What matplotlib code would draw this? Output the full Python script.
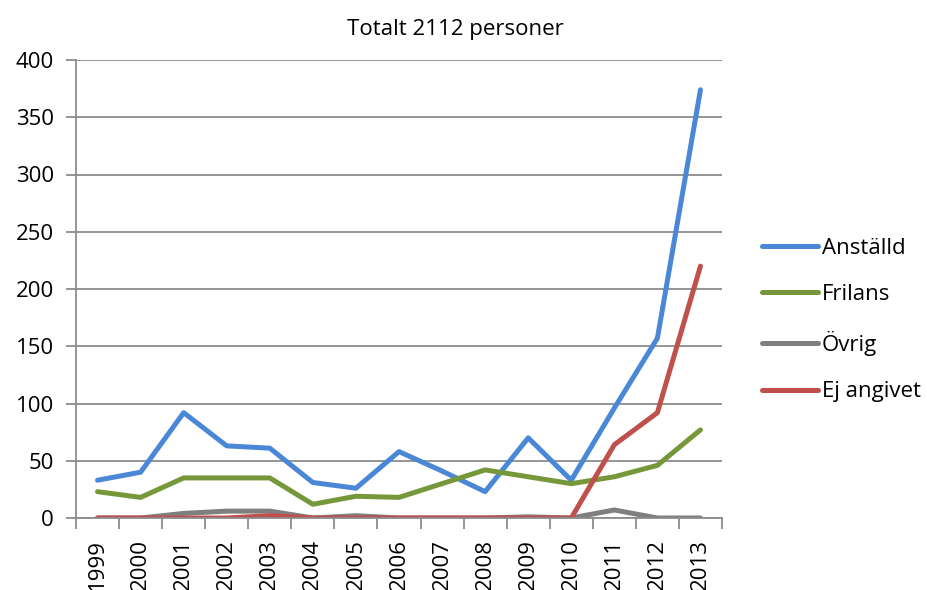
import numpy as np
import matplotlib
matplotlib.use("Agg")
import matplotlib.pyplot as plt

YEARS = [str(y) for y in range(1999, 2014)]

ANSTALLD = [33, 40, 92, 63, 61, 31, 26, 58, 41, 23, 70, 33, 96, 157, 374]
FRILANS = [23, 18, 35, 35, 35, 12, 19, 18, 30, 42, 36, 30, 36, 46, 77]
OVRIG = [0, 0, 4, 6, 6, 0, 2, 0, 0, 0, 1, 0, 7, 0, 0]
EJ_ANGIVET = [0, 0, 0, 0, 2, 0, 0, 0, 0, 0, 0, 0, 64, 92, 220]

SERIES = [
    ("Anställd", ANSTALLD, "#4a87d6"),
    ("Frilans", FRILANS, "#77973b"),
    ("Övrig", OVRIG, "#7f7f7f"),
    ("Ej angivet", EJ_ANGIVET, "#c0504d"),
]

FS = 16
GRID = "#8c8c8c"

plt.rcParams["font.family"] = ["Open Sans", "DejaVu Sans"]

fig = plt.figure(figsize=(9.28, 5.9), dpi=100)
ax = fig.add_axes([76 / 928, 1 - 518 / 590, 646 / 928, 458 / 590])

x = np.arange(len(YEARS))
for name, vals, color in SERIES:
    ax.plot(x, vals, color=color, lw=3.6, label=name,
            solid_capstyle="round", solid_joinstyle="round")

ax.set_xlim(-0.5, len(YEARS) - 0.5)
ax.set_ylim(0, 400)
ax.set_yticks(range(0, 401, 50))
ax.yaxis.grid(True, color=GRID, lw=1.3)
ax.set_axisbelow(True)

ax.set_xticks(x)
ax.set_xticklabels(YEARS, rotation=90, fontsize=FS)
ax.set_xticks(np.arange(-0.5, len(YEARS), 1), minor=True)
ax.tick_params(axis="x", which="major", length=0, pad=15)
ax.tick_params(axis="x", which="minor", length=8, color=GRID, width=1.3)
ax.tick_params(axis="y", length=7, color=GRID, width=1.3, labelsize=FS, pad=9)

for side in ("top", "right"):
    ax.spines[side].set_visible(False)
for side in ("left", "bottom"):
    ax.spines[side].set_color(GRID)
    ax.spines[side].set_linewidth(1.3)

fig.legend(loc="center left", bbox_to_anchor=(762 / 928, 1 - 320 / 590),
           bbox_transform=fig.transFigure, frameon=False, fontsize=FS,
           handlelength=2.5, handletextpad=0.2, labelspacing=1.15,
           borderpad=0, borderaxespad=0)

fig.text(455 / 928, 1 - 35 / 590, "Totalt 2112 personer", ha="center",
         va="baseline", fontsize=FS)

fig.savefig("out.png", dpi=100, facecolor="white")
